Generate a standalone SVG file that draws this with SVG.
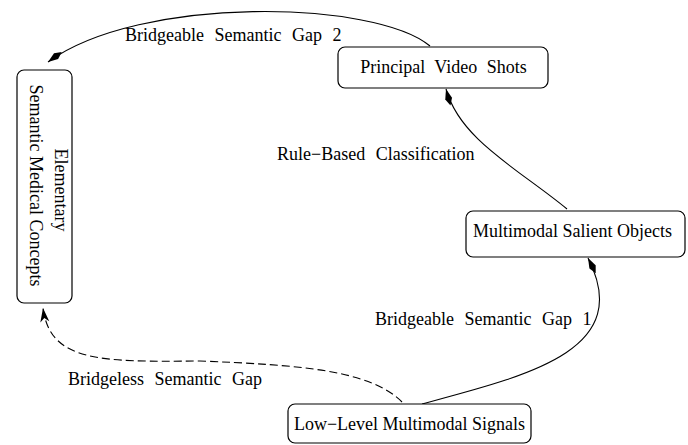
<svg xmlns="http://www.w3.org/2000/svg" width="688" height="445" viewBox="0 0 688 445">
<style>
.box{fill:#fff;stroke:#000;stroke-width:1.2}
.t{font-family:"Liberation Serif","Times New Roman",serif;font-size:18px;fill:#000;text-anchor:middle}
.lbl{font-family:"Liberation Serif","Times New Roman",serif;font-size:18px;fill:#000;word-spacing:6px}
.e{fill:none;stroke:#000;stroke-width:1.1}
.d{stroke-dasharray:8 4}
</style>
<defs>
<marker id="dia" markerUnits="userSpaceOnUse" markerWidth="20" markerHeight="10" viewBox="-17 -5 18 10" refX="0" refY="0" orient="auto">
<polygon points="0,0 -10,-3.5 -17,0 -10,3.5" fill="#000"/>
</marker>
<marker id="arr" markerUnits="userSpaceOnUse" markerWidth="16" markerHeight="12" viewBox="-15 -6 16 12" refX="0" refY="0" orient="auto">
<polygon points="0,0 -14,-4.5 -10,0 -14,4.5" fill="#000"/>
</marker>
</defs>
<g id="edges">
<path class="e" d="M430,46 C375,0 140,-5 48,62" marker-end="url(#dia)"/>
<path class="e" d="M567,209 C520,170 460,140 446,89" marker-end="url(#dia)"/>
<path class="e" d="M422,404 C530,375 635,350 588,258" marker-end="url(#dia)"/>
<path class="e d" d="M402,402 C370,370 300,365 200,361 C100,362 50,362 43,308" marker-end="url(#arr)"/>
</g>
<g id="labels">
<text class="lbl" x="125" y="41">Bridgeable Semantic Gap 2</text>
<text class="lbl" x="277" y="160">Rule−Based Classification</text>
<text class="lbl" x="375" y="325">Bridgeable Semantic Gap 1</text>
<text class="lbl" x="68" y="385">Bridgeless Semantic Gap</text>
</g>
<g id="elementary">
<rect class="box" x="17" y="70" width="55" height="233" rx="7"/>
<g transform="translate(44.5,187) rotate(90)">
<text class="t" x="3" y="-10">Elementary</text>
<text class="t" x="-1.5" y="14.5">Semantic Medical Concepts</text>
</g>
</g>
<g id="principal">
<rect class="box" x="338" y="47" width="210" height="41" rx="7"/>
<text class="t" x="443.5" y="73" style="word-spacing:5px">Principal Video Shots</text>
</g>
<g id="salient">
<rect class="box" x="466" y="211" width="219" height="46" rx="7"/>
<text class="t" x="572.5" y="237">Multimodal Salient Objects</text>
</g>
<g id="lowlevel">
<rect class="box" x="288" y="404" width="243" height="39" rx="7"/>
<text class="t" x="409.5" y="430">Low−Level Multimodal Signals</text>
</g>
</svg>
